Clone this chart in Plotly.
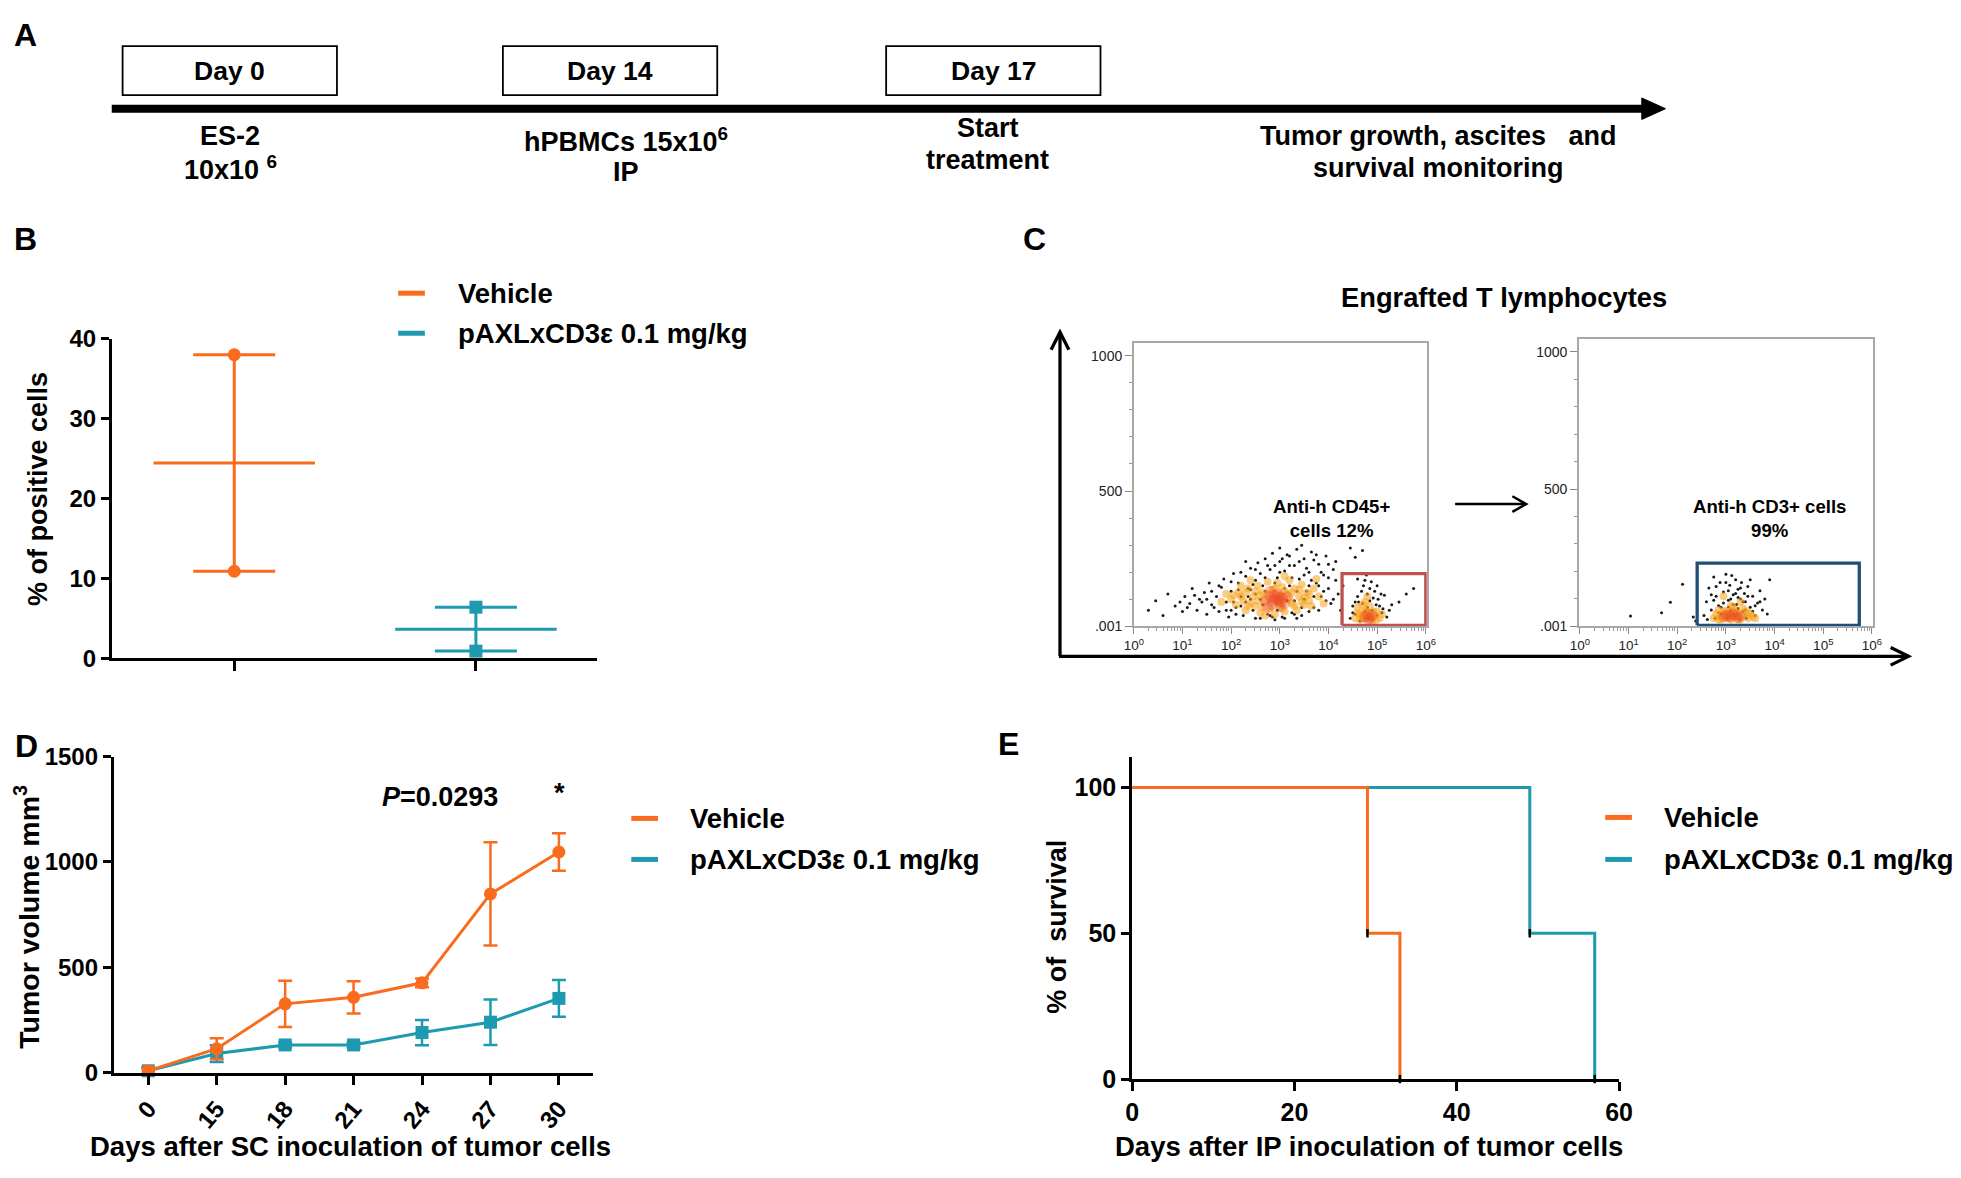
import statistics
import plotly.graph_objects as go

W, H = 1961, 1178
FONT = "Liberation Sans, Arial, Helvetica, sans-serif"
ORANGE = "#F96C1E"
TEAL = "#1D9AB0"

# ---------------- data ----------------
groups = ["Vehicle", "pAXLxCD3ε 0.1 mg/kg"]

# B: % of positive cells (two animals per group)
pos_vehicle = [38.0, 10.9]
pos_paxl = [6.4, 0.9]

# C: flow cytometry events as (log10 fluorescence, scatter)
cd45_black = [(0.3, 60), (0.45, 95), (0.6, 40), (0.7, 120), (0.85, 75), (1.0, 55), (1.05, 110),
              (1.15, 85), (1.2, 140), (1.3, 60), (1.35, 100), (1.45, 125), (1.5, 45), (1.55, 160),
              (1.6, 80), (1.7, 110), (1.75, 55), (1.8, 145), (1.85, 175), (1.9, 90), (1.95, 35),
              (2.0, 130), (2.05, 195), (2.1, 70), (2.15, 160), (2.2, 110), (2.25, 40), (2.3, 185),
              (2.35, 140), (2.4, 215), (2.45, 60), (2.5, 170), (2.55, 235), (2.6, 30), (2.6, 195),
              (2.65, 150), (2.7, 250), (2.75, 45), (2.8, 210), (2.85, 270), (2.9, 25), (2.95, 180),
              (3.0, 240), (3.05, 35), (3.1, 205), (3.15, 265), (3.2, 150), (3.25, 50), (3.3, 225),
              (3.35, 285), (3.4, 175), (3.45, 40), (3.5, 250), (3.55, 130), (3.6, 200), (3.65, 275),
              (3.7, 70), (3.75, 160), (3.8, 230), (3.85, 110), (3.9, 190), (3.95, 260), (4.0, 140),
              (4.05, 85), (4.1, 210), (4.15, 170), (4.2, 120), (3.3, 95), (2.4, 100), (2.0, 60),
              (3.6, 55), (3.0, 290), (2.3, 240), (1.6, 130), (4.25, 60), (3.45, 300), (4.45, 290),
              (4.7, 280), (4.55, 255), (2.2, 75), (2.5, 120), (2.7, 180), (3.1, 140), (3.5, 190),
              (3.8, 150), (3.2, 225), (2.9, 225), (3.7, 245), (4.0, 230), (1.4, 90), (1.1, 70),
              (1.9, 60), (2.0, 165), (2.1, 45), (2.2, 200), (2.3, 90), (2.4, 135), (2.5, 30),
              (2.5, 210), (2.6, 100), (2.7, 130), (2.75, 225), (2.8, 40), (2.9, 160), (2.95, 60),
              (3.0, 200), (3.1, 30), (3.15, 95), (3.2, 260), (3.25, 180), (3.3, 45), (3.35, 130),
              (3.4, 240), (3.5, 100), (3.55, 215), (3.6, 150), (3.7, 110), (3.75, 265), (3.8, 60),
              (3.9, 130), (4.0, 180), (4.1, 100), (3.85, 200), (3.65, 170), (3.45, 70), (3.05, 250),
              (2.65, 80), (2.35, 110), (2.05, 90), (1.75, 150), (1.5, 100), (1.25, 115), (0.95, 90),
              (2.85, 35), (3.35, 30), (2.45, 155), (2.15, 135), (1.65, 70), (3.95, 95), (4.3, 150),
              (4.15, 240)]
cd45_orange = [(2.0, 100), (2.1, 80), (2.15, 125), (2.25, 95), (2.3, 60), (2.35, 140), (2.45, 110),
               (2.5, 75), (2.55, 150), (2.6, 50), (2.65, 125), (2.7, 95), (2.75, 165), (2.8, 65),
               (2.85, 135), (2.9, 45), (2.95, 160), (3.0, 80), (3.05, 145), (3.1, 55), (3.15, 120),
               (3.2, 170), (3.25, 85), (3.3, 140), (3.35, 60), (3.4, 110), (3.45, 155), (3.5, 80),
               (3.55, 125), (3.6, 95), (3.7, 140), (3.8, 110), (3.9, 85), (2.4, 170), (3.1, 185),
               (1.8, 90), (1.9, 120), (3.75, 175), (2.2, 150), (2.7, 40), (2.2, 110), (2.3, 125),
               (2.4, 85), (2.5, 130), (2.6, 115), (2.65, 70), (2.75, 120), (2.85, 100), (2.9, 140),
               (3.0, 115), (3.05, 65), (3.1, 130), (3.2, 100), (3.25, 125), (3.3, 75), (3.4, 135),
               (3.5, 105), (3.6, 120), (3.65, 75), (2.55, 95), (2.35, 75), (2.05, 115), (3.45, 90),
               (2.95, 90)]
cd45_core = [(2.7, 95), (2.8, 110), (2.85, 80), (2.9, 100), (2.95, 120), (3.0, 95), (3.05, 105),
             (3.1, 85), (2.8, 130), (3.0, 75), (3.15, 110), (2.75, 70), (2.85, 95), (2.95, 105),
             (3.05, 90), (2.9, 115), (3.0, 110)]
cd45pos_black = [(4.45, 30), (4.5, 75), (4.55, 45), (4.6, 110), (4.65, 20), (4.7, 85), (4.72, 150),
                 (4.75, 55), (4.78, 190), (4.8, 120), (4.82, 30), (4.85, 95), (4.88, 165), (4.9, 60),
                 (4.95, 130), (5.0, 40), (5.02, 100), (5.05, 75), (5.1, 50), (5.15, 115), (5.2, 35),
                 (5.3, 80), (5.45, 90), (5.6, 120), (5.75, 140), (4.6, 175), (4.9, 25), (5.0, 150),
                 (4.5, 50), (4.62, 90), (4.68, 130), (4.8, 70), (4.85, 140), (4.92, 105), (4.98, 80),
                 (5.08, 120), (5.12, 65), (4.75, 170), (4.55, 90), (5.25, 60)]
cd45pos_orange = [(4.55, 30), (4.6, 50), (4.65, 25), (4.7, 40), (4.75, 60), (4.8, 30), (4.85, 50),
                  (4.9, 20), (4.95, 40), (5.0, 55), (5.05, 30), (5.1, 45), (4.7, 80), (4.85, 75),
                  (4.6, 70), (4.65, 45), (4.72, 30), (4.78, 55), (4.88, 35), (4.92, 55), (4.98, 25),
                  (4.75, 90), (4.8, 110)]
cd45pos_core = [(4.75, 35), (4.8, 45), (4.85, 30), (4.9, 40), (4.82, 25)]

cd3_black = [(1.04, 38), (1.68, 50), (1.86, 88), (2.11, 153), (2.33, 34), (2.38, 20), (2.55, 40),
             (2.6, 90), (2.62, 25), (2.65, 140), (2.7, 60), (2.75, 180), (2.78, 30), (2.8, 110),
             (2.85, 75), (2.88, 160), (2.9, 45), (2.95, 125), (3.0, 190), (3.02, 30), (3.05, 95),
             (3.08, 150), (3.1, 60), (3.12, 185), (3.15, 115), (3.18, 40), (3.2, 170), (3.22, 80),
             (3.25, 135), (3.28, 25), (3.3, 100), (3.32, 160), (3.35, 55), (3.38, 120), (3.4, 90),
             (3.42, 30), (3.45, 145), (3.5, 70), (3.55, 110), (3.6, 40), (3.65, 85), (3.7, 130),
             (3.75, 60), (3.8, 100), (3.85, 45), (3.9, 170), (2.95, 85), (3.25, 65), (3.05, 130),
             (2.7, 115), (2.8, 145), (2.9, 70), (3.0, 160), (3.1, 100), (3.15, 80), (3.2, 120),
             (3.3, 140), (3.35, 90), (3.45, 110), (3.5, 170), (3.6, 75), (3.7, 90), (2.85, 50),
             (3.05, 70), (3.25, 105), (3.4, 60), (2.75, 95), (3.55, 55)]
cd3_orange = [(2.75, 30), (2.8, 45), (2.85, 25), (2.9, 40), (2.95, 55), (3.0, 30), (3.05, 45),
              (3.1, 25), (3.15, 50), (3.2, 35), (3.25, 45), (3.3, 25), (3.35, 40), (3.4, 55),
              (3.45, 30), (3.5, 45), (3.55, 35), (3.1, 75), (2.95, 110), (3.3, 90), (2.85, 60),
              (3.0, 55), (3.05, 30), (3.2, 60), (3.25, 25), (3.35, 65), (3.45, 50), (3.6, 30),
              (2.9, 25), (3.15, 70)]
cd3_core = [(2.95, 35), (3.05, 40), (3.1, 35), (3.2, 40), (3.25, 32), (3.15, 45), (3.0, 42), (3.3, 38)]

# gates: log10 low, log10 high, bottom, top
cd45_gate = [4.28, 6.0, 4, 195]
cd3_gate = [2.41, 5.74, 4, 230]
flow_xticks = [0, 1, 2, 3, 4, 5, 6]
flow_yticks = [0, 500, 1000]
flow_ytext = [".001", "500", "1000"]

# D: tumour volume
days_sc = ["0", "15", "18", "21", "24", "27", "30"]
vol_vehicle = [8, 113, 326, 357, 426, 848, 1047]
vol_vehicle_err = [15, 50, 110, 77, 21, 245, 89]
vol_paxl = [8, 90, 131, 131, 190, 239, 352]
vol_paxl_err = [15, 40, 12, 12, 60, 108, 87]

# E: survival
surv_days_vehicle = [0, 29, 33]
surv_vehicle = [100, 50, 0]
surv_days_paxl = [0, 49, 57]
surv_paxl = [100, 50, 0]

# A: timeline
timeline_days = ["Day 0", "Day 14", "Day 17"]
timeline_events = [["ES-2", "10x10 <sup>6</sup>"], ["hPBMCs 15x10<sup>6</sup>", "IP"],
                   ["Start", "treatment"], ["Tumor growth, ascites\u00a0\u00a0 and", "survival monitoring"]]


# ---------------- helpers ----------------
def px(x):
    return x / W


def py(y):
    return 1 - y / H


def text(x, y, s, size, angle=0, xanchor="center", color="black"):
    return dict(x=px(x), y=py(y), xref="paper", yref="paper", text="<b>" + s + "</b>",
                showarrow=False, xanchor=xanchor, yanchor="middle", textangle=angle,
                font=dict(family=FONT, size=size, color=color))


def seg(x0, y0, x1, y1, width, color="black"):
    return dict(type="line", xref="paper", yref="paper", x0=px(x0), y0=py(y0), x1=px(x1), y1=py(y1),
                line=dict(color=color, width=width))


def path(points, width=2, fill=None, closed=False):
    d = "M" + " L".join(f"{px(a):.5f},{py(b):.5f}" for a, b in points) + (" Z" if closed else "")
    return dict(type="path", xref="paper", yref="paper", path=d,
                line=dict(color="black", width=width), fillcolor=fill or "rgba(0,0,0,0)")


shapes, annotations = [], []


def legend(x_line, y_first, x_text, gap):
    for i, (name, col) in enumerate(zip(groups, [ORANGE, TEAL])):
        y = y_first + i * gap
        shapes.append(seg(x_line, y, x_line + 27, y, 5, col))
        annotations.append(text(x_text, y, name, 27.5, xanchor="left"))


fig = go.Figure()

# ---------------- panel A ----------------
box_centres = [222.5, 607.5, 995.5]
for label, cx in zip(timeline_days, box_centres):
    shapes.append(dict(type="rect", xref="paper", yref="paper", x0=px(cx - 108.5), x1=px(cx + 108.5),
                       y0=py(83), y1=py(33), line=dict(color="black", width=1.8)))
    annotations.append(text(cx, 58, label, 26.5))
shapes.append(seg(103, 97, 1656, 97, 8))
shapes.append(path([(1652, 86), (1676, 97), (1652, 108)], width=1, fill="black", closed=True))
event_pos = [(223, 125, 158), (624, 129, 162), (990, 117, 150), (1446, 125, 158)]
for (l1, l2), (cx, y1, y2) in zip(timeline_events, event_pos):
    annotations.append(text(cx, y1, l1, 27))
    annotations.append(text(cx, y2, l2, 27))

# ---------------- panel B ----------------
for i, (vals, col, sym) in enumerate([(pos_vehicle, ORANGE, "circle"), (pos_paxl, TEAL, "square")]):
    pos = i + 1
    mean = statistics.mean(vals)
    sem = statistics.stdev(vals) / len(vals) ** 0.5
    fig.add_trace(go.Scatter(x=[pos], y=[mean], mode="markers", marker=dict(color="rgba(0,0,0,0)"),
                             error_y=dict(type="data", array=[sem], color=col, thickness=3, width=41),
                             xaxis="x", yaxis="y", showlegend=False))
    fig.add_trace(go.Scatter(x=[pos - 0.334, pos + 0.334], y=[mean, mean], mode="lines",
                             line=dict(color=col, width=3), xaxis="x", yaxis="y", showlegend=False))
    fig.add_trace(go.Scatter(x=[pos] * len(vals), y=vals, mode="markers",
                             marker=dict(color=col, size=13, symbol=sym), cliponaxis=False,
                             xaxis="x", yaxis="y", showlegend=False))
legend(393, 286, 452, 41)

# ---------------- panel C ----------------
def cloud(pts, ax, color, size, opacity=1.0):
    fig.add_trace(go.Scatter(x=[10 ** a for a, _ in pts], y=[b for _, b in pts], mode="markers",
                             marker=dict(color=color, size=size, opacity=opacity, line=dict(width=0)),
                             xaxis="x" + ax, yaxis="y" + ax, showlegend=False))


cloud(cd45_black + cd45pos_black, "2", "#1a1a1a", 3)
cloud(cd45_orange + cd45pos_orange, "2", "#F6A21C", 8, 0.55)
cloud(cd45_core + cd45pos_core, "2", "#EE4A24", 11, 0.35)
cloud(cd3_black, "3", "#1a1a1a", 3)
cloud(cd3_orange, "3", "#F6A21C", 8, 0.55)
cloud(cd3_core, "3", "#EE4A24", 11, 0.35)

for gate, ax, col in [(cd45_gate, "2", "#C0504D"), (cd3_gate, "3", "#1F4E79")]:
    lo, hi, bot, top = gate
    fig.add_trace(go.Scatter(x=[10 ** lo, 10 ** hi, 10 ** hi, 10 ** lo, 10 ** lo],
                             y=[bot, bot, top, top, bot], mode="lines",
                             line=dict(color=col, width=3.3), xaxis="x" + ax, yaxis="y" + ax,
                             showlegend=False))

annotations.append(dict(x=4.07, y=399, xref="x2", yref="y2", text="<b>Anti-h CD45+<br>cells 12%</b>",
                        showarrow=False, font=dict(family=FONT, size=18.6, color="black")))
annotations.append(dict(x=3.9, y=393, xref="x3", yref="y3", text="<b>Anti-h CD3+ cells<br>99%</b>",
                        showarrow=False, font=dict(family=FONT, size=18.6, color="black")))
annotations.append(text(1513, 290, "Engrafted T lymphocytes", 27.3))
# big axes arrows and the step arrow
shapes.append(seg(1063, 658, 1063, 327, 3.3))
shapes.append(path([(1054, 344), (1063, 326), (1072, 344)], width=3.3))
shapes.append(seg(1062, 658, 1921, 658, 3.3))
shapes.append(path([(1904, 649), (1922, 658), (1904, 667)], width=3.3))
shapes.append(seg(1463, 502, 1533, 502, 2.5))
shapes.append(path([(1521, 494), (1535, 502), (1521, 510)], width=2.5))

# ---------------- panel D ----------------
for vals, err, col, sym in [(vol_paxl, vol_paxl_err, TEAL, "square"),
                            (vol_vehicle, vol_vehicle_err, ORANGE, "circle")]:
    fig.add_trace(go.Scatter(x=days_sc, y=vals, mode="lines+markers",
                             line=dict(color=col, width=3), marker=dict(color=col, size=13, symbol=sym),
                             error_y=dict(type="data", array=err, color=col, thickness=2.5, width=7),
                             cliponaxis=False, xaxis="x4", yaxis="y4", showlegend=False))
legend(629, 824, 686, 42)
annotations.append(text(435, 802, "<i>P</i>=0.0293", 27))
annotations.append(text(556, 798, "*", 27))

# ---------------- panel E ----------------
for t, s, col in [(surv_days_paxl, surv_paxl, TEAL), (surv_days_vehicle, surv_vehicle, ORANGE)]:
    fig.add_trace(go.Scatter(x=t, y=s, mode="lines", line=dict(color=col, width=3, shape="hv"),
                             cliponaxis=False, xaxis="x5", yaxis="y5", showlegend=False))
    fig.add_trace(go.Scatter(x=t[1:], y=s[1:], mode="markers", cliponaxis=False,
                             marker=dict(symbol="line-ns", size=6, line=dict(color="black", width=2.5)),
                             xaxis="x5", yaxis="y5", showlegend=False))
legend(1615, 823, 1672, 43)

# ---------------- titles and panel letters ----------------
annotations += [
    text(16, 22, "A", 32), text(16, 230, "B", 32), text(1037, 230, "C", 32),
    text(17, 750, "D", 32), text(1011, 748, "E", 32),
    text(29, 487, "% of positive cells", 27, angle=-90),
    text(17, 925, "Tumor volume mm<sup>3</sup>", 28.5, angle=-90),
    text(345, 1160, "Days after SC inoculation of tumor cells", 27.5),
    text(1060, 935, "%\u00a0of\u00a0\u00a0survival", 27, angle=-90),
    text(1376, 1160, "Days after IP inoculation of tumor cells", 27.5),
]

# ---------------- axes ----------------
base = dict(showline=True, linecolor="black", linewidth=2.7, ticks="outside", tickwidth=2.5,
            ticklen=8, tickcolor="black", showgrid=False, zeroline=False, fixedrange=True,
            tickfont=dict(family=FONT, size=24, color="black", weight="bold"))
flow_x = dict(type="log", showline=True, mirror=True, linecolor="#A8A8A8", linewidth=1.5,
              ticks="outside", ticklen=6, tickwidth=1, tickcolor="#888", showgrid=False, zeroline=False,
              tickvals=[10 ** k for k in flow_xticks],
              ticktext=[f"10<sup>{k}</sup>" for k in flow_xticks],
              minor=dict(ticks="outside", ticklen=3, tickcolor="#999", tickwidth=1,
                         tickvals=[m * 10 ** k for k in flow_xticks[:-1] for m in range(2, 10)]),
              tickfont=dict(family=FONT, size=13.5, color="#222"))
flow_y = dict(showline=True, mirror=True, linecolor="#A8A8A8", linewidth=1.5, ticks="outside",
              ticklen=7, tickwidth=1, tickcolor="#888", showgrid=False, zeroline=False,
              tickvals=flow_yticks, ticktext=flow_ytext,
              minor=dict(ticks="outside", ticklen=3, tickcolor="#999", tickwidth=1,
                         tickvals=[v for v in range(100, 1000, 100) if v not in flow_yticks]),
              tickfont=dict(family=FONT, size=14, color="#222"))
big_ticks = dict(family=FONT, size=25, color="black", weight="bold")

fig.update_layout(
    width=W, height=H, margin=dict(l=0, r=0, t=0, b=0),
    paper_bgcolor="white", plot_bgcolor="rgba(0,0,0,0)", showlegend=False,
    font=dict(family=FONT, color="black"),
    xaxis=dict(base, domain=[px(103), px(594)], range=[0.493, 2.5], tickvals=[1, 2],
               showticklabels=False, ticklen=10, anchor="y"),
    yaxis=dict(base, domain=[py(660), py(332.7)], range=[0, 40], tickvals=[0, 10, 20, 30, 40],
               anchor="x"),
    xaxis2=dict(flow_x, domain=[px(1137.7), px(1434.3)], range=[0, 6.02], anchor="y2"),
    yaxis2=dict(flow_y, domain=[py(627.3), py(336.7)], range=[0, 1048], anchor="x2"),
    xaxis3=dict(flow_x, domain=[px(1588.3), px(1886)], range=[-0.02, 6.02], anchor="y3"),
    yaxis3=dict(flow_y, domain=[py(627.3), py(332.7)], range=[0, 1047], anchor="x3"),
    xaxis4=dict(base, domain=[px(105), px(590)], type="category", categoryorder="array",
                categoryarray=days_sc, range=[-0.505, 6.495], tickangle=-50, ticklen=10, anchor="y4"),
    yaxis4=dict(base, domain=[py(1084.3), py(760.7)], range=[0, 1500],
                tickvals=[0, 500, 1000, 1500], anchor="x4"),
    xaxis5=dict(base, domain=[px(1136), px(1629)], range=[0, 60], tickvals=[0, 20, 40, 60],
                ticklen=9, tickfont=big_ticks, anchor="y5"),
    yaxis5=dict(base, domain=[py(1091), py(760.7)], range=[0, 110.6], tickvals=[0, 50, 100],
                tickfont=big_ticks, anchor="x5"),
    shapes=shapes, annotations=annotations,
)

fig.write_html("out.html", config={"displayModeBar": False},
               post_script="document.body.style.margin = '0';")
